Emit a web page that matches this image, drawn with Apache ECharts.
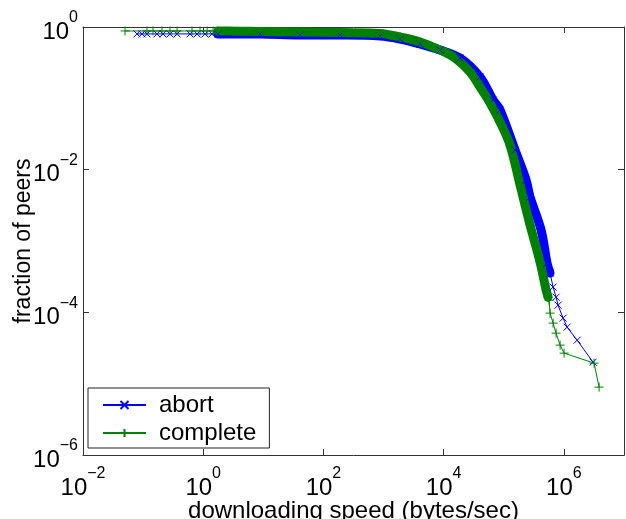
<!DOCTYPE html>
<html>
<head>
<meta charset="utf-8">
<script src="https://cdn.jsdelivr.net/npm/echarts@6/dist/echarts.min.js"></script>
<style>
  html, body { margin: 0; padding: 0; background: #fff; }
  #chart { width: 626px; height: 519px; }
</style>
</head>
<body>
<div id="chart"></div>
<script>
// values (x = bytes/sec, y = fraction of peers)
const abortSpeed = [0.079, 0.096, 0.116, 0.170, 0.214, 0.280, 0.367, 0.603, 0.789, 1.07, 1.40, 1.76,
  8.8, 40.8, 189, 875, 1880, 4050, 8710, 18700, 40300, 66400, 86700, 154000, 235000, 274000,
  418000, 525000, 589000, 661000, 741000, 800000, 970000, 1130000, 1660000, 3060000];
const abortFraction = [0.80, 0.80, 0.80, 0.80, 0.80, 0.80, 0.80, 0.80, 0.80, 0.80, 0.80, 0.797,
  0.795, 0.772, 0.770, 0.748, 0.679, 0.578, 0.476, 0.367, 0.199, 0.0946, 0.0686, 0.0188, 0.00715, 0.00413,
  0.00142, 0.00049, 0.000355, 0.000226, 0.000163, 0.000126, 0.000083, 0.000062, 0.0000407, 0.00002];
const abortDense = [11, 28]; // index range where the markers merge into a solid band

const completeSpeed = [0.050, 0.116, 0.146, 0.206, 0.280, 0.367, 0.652, 0.885, 1.16, 1.46, 1.76, 3.65,
  8.8, 40.8, 189, 875, 1880, 4050, 8710, 15500, 27500, 40300, 59200, 86700, 127000, 187000,
  274000, 402000, 506000, 546000, 567000, 589000, 661000, 741000, 865000, 1007000, 3180000, 3850000];
const completeFraction = [0.88, 0.88, 0.88, 0.88, 0.88, 0.88, 0.88, 0.88, 0.88, 0.88, 0.879, 0.875,
  0.865, 0.851, 0.837, 0.811, 0.724, 0.616, 0.476, 0.367, 0.234, 0.144, 0.0859, 0.0465, 0.0221, 0.00608,
  0.00167, 0.000506, 0.000205, 0.000163, 0.000148, 0.0000975, 0.0000706, 0.0000511, 0.0000347, 0.0000268,
  0.0000194, 0.00000894];
const completeDense = [10, 29];

const xTicks = [1e-2, 1, 1e2, 1e4, 1e6];
const yTicks = [1e-6, 1e-4, 1e-2, 1];

const FONT = '"Liberation Sans", Arial, Helvetica, sans-serif';
const BLUE = '#0000ff';
const GREEN = '#008000';
const AXIS = '#333';

function pairs(xs, ys, from, to) {
  const out = [];
  for (let i = from; i <= to; i++) out.push([xs[i], ys[i]]);
  return out;
}

function powLabel(v) {
  const e = Math.round(Math.log10(v));
  return '{b|10}{s|' + (e < 0 ? '\u2212' + (-e) : e) + '}';
}

const richLabel = {
  b: { fontSize: 24, lineHeight: 34, verticalAlign: 'bottom', color: '#000', fontFamily: FONT },
  s: { fontSize: 16, lineHeight: 14, verticalAlign: 'top', color: '#000', fontFamily: FONT }
};

function logAxis(extra) {
  return Object.assign({
    type: 'log',
    logBase: 10,
    axisLine: { show: true, onZero: false, lineStyle: { color: AXIS, width: 1 } },
    splitLine: { show: false },
    minorTick: { show: false }
  }, extra);
}

const chart = echarts.init(document.getElementById('chart'));

chart.setOption({
  animation: false,
  backgroundColor: '#fff',
  grid: { left: 83, right: 2, top: 27, bottom: 64, containLabel: false, outerBoundsMode: 'none' },
  legend: {
    data: ['abort', 'complete'],
    orient: 'vertical',
    left: 88,
    top: 388,
    itemWidth: 43,
    itemHeight: 10,
    itemGap: 4,
    padding: [5, 13, 3, 14],
    borderColor: '#222',
    borderWidth: 1,
    backgroundColor: '#fff',
    textStyle: { fontSize: 24, color: '#000', fontFamily: FONT, padding: [0, 0, 0, 8] }
  },
  xAxis: [
    logAxis({
      min: 1e-2, max: 1e7, position: 'bottom',
      name: 'downloading speed (bytes/sec)', nameLocation: 'middle', nameGap: 44,
      nameMoveOverlap: false,
      nameTextStyle: { fontSize: 24, color: '#000', fontFamily: FONT },
      axisTick: { show: true, inside: true, length: 6, customValues: xTicks, lineStyle: { color: AXIS } },
      axisLabel: { customValues: xTicks, margin: 11, formatter: powLabel, rich: richLabel }
    }),
    logAxis({
      min: 1e-2, max: 1e7, position: 'top',
      axisTick: { show: true, inside: true, length: 6, customValues: xTicks, lineStyle: { color: AXIS } },
      axisLabel: { show: false }
    })
  ],
  yAxis: [
    logAxis({
      min: 1e-6, max: 1, position: 'left',
      name: 'fraction of peers', nameLocation: 'middle', nameGap: 48,
      nameMoveOverlap: false,
      nameTextStyle: { fontSize: 23, color: '#000', fontFamily: FONT },
      axisTick: { show: true, inside: true, length: 6, customValues: yTicks, lineStyle: { color: AXIS } },
      axisLabel: { customValues: yTicks, margin: 5, formatter: powLabel, rich: richLabel }
    }),
    logAxis({
      min: 1e-6, max: 1, position: 'right',
      axisTick: { show: true, inside: true, length: 6, customValues: yTicks, lineStyle: { color: AXIS } },
      axisLabel: { show: false }
    })
  ],
  series: [
    {
      name: 'abort band',
      type: 'line',
      data: pairs(abortSpeed, abortFraction, abortDense[0], abortDense[1]),
      showSymbol: false,
      smooth: 0.35,
      lineStyle: { color: BLUE, width: 9, cap: 'round', join: 'round' },
      itemStyle: { color: BLUE },
      silent: true
    },
    {
      name: 'abort',
      type: 'line',
      data: pairs(abortSpeed, abortFraction, 0, abortSpeed.length - 1),
      symbol: 'path://M0,0L10,10M10,0L0,10',
      symbolSize: 7,
      lineStyle: { color: BLUE, width: 1 },
      itemStyle: { color: BLUE, borderColor: BLUE, borderWidth: 1 }
    },
    {
      name: 'complete band',
      type: 'line',
      data: pairs(completeSpeed, completeFraction, completeDense[0], completeDense[1]),
      showSymbol: false,
      smooth: 0.35,
      lineStyle: { color: GREEN, width: 9, cap: 'round', join: 'round' },
      itemStyle: { color: GREEN },
      silent: true
    },
    {
      name: 'complete',
      type: 'line',
      data: pairs(completeSpeed, completeFraction, 0, completeSpeed.length - 1),
      symbol: 'path://M5,0L5,10M0,5L10,5',
      symbolSize: 9,
      lineStyle: { color: GREEN, width: 1 },
      itemStyle: { color: GREEN, borderColor: GREEN, borderWidth: 1 }
    }
  ]
});
</script>
</body>
</html>
